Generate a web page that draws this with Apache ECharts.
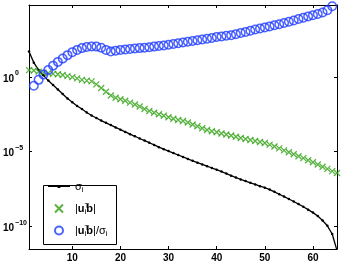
<!DOCTYPE html>
<html><head><meta charset="utf-8">
<script src="https://cdn.jsdelivr.net/npm/echarts@6/dist/echarts.min.js"></script>
<style>html,body{margin:0;padding:0;background:#fff}#c{width:346px;height:265px}</style>
</head><body><div id="c"></div>
<script>
// x tick labels and y tick exponents (log axis decades)
const xTicks = [10, 20, 30, 40, 50, 60];
const yTickExp = [-10, -5, 0];
// values, stored as log10 exponents, i = 1..65
const sigmaExp = [1.69,0.95,0.45,0.10,-0.25,-0.55,-0.85,-1.15,-1.45,-1.70,
  -1.95,-2.15,-2.38,-2.58,-2.75,-2.92,-3.07,-3.22,-3.38,-3.53,
  -3.68,-3.83,-3.97,-4.12,-4.26,-4.40,-4.55,-4.70,-4.83,-4.96,
  -5.09,-5.22,-5.35,-5.48,-5.61,-5.73,-5.85,-5.97,-6.09,-6.20,
  -6.33,-6.46,-6.60,-6.73,-6.85,-6.96,-7.08,-7.19,-7.30,-7.40,
  -7.53,-7.68,-7.84,-8.00,-8.16,-8.33,-8.50,-8.68,-8.87,-9.07,
  -9.30,-9.60,-9.95,-10.50,-11.60];
const betaExp = [0.45,0.42,0.35,0.28,0.25,0.20,0.17,0.12,0.05,-0.02,
  -0.10,-0.20,-0.25,-0.30,-0.50,-0.75,-1.00,-1.25,-1.40,-1.50,
  -1.60,-1.72,-1.85,-1.98,-2.15,-2.28,-2.40,-2.50,-2.60,-2.70,
  -2.80,-2.88,-2.95,-3.05,-3.18,-3.30,-3.43,-3.55,-3.63,-3.70,
  -3.78,-3.85,-3.92,-4.00,-4.08,-4.15,-4.22,-4.28,-4.35,-4.42,
  -4.53,-4.65,-4.78,-4.91,-5.04,-5.17,-5.30,-5.43,-5.57,-5.71,
  -5.85,-6.00,-6.15,-6.30,-6.42];
const etaExp = [null,-0.60,-0.20,0.15,0.45,0.75,1.00,1.22,1.45,1.65,
  1.80,1.92,2.00,2.03,2.02,1.95,1.80,1.70,1.75,1.80,
  1.83,1.86,1.89,1.92,1.95,1.98,2.02,2.06,2.10,2.15,
  2.20,2.25,2.30,2.35,2.40,2.45,2.50,2.55,2.60,2.66,
  2.70,2.74,2.78,2.85,2.93,3.00,3.08,3.16,3.23,3.30,
  3.37,3.45,3.52,3.60,3.68,3.77,3.86,3.95,4.04,4.12,
  4.20,4.30,4.45,4.72,5.10];
const seriesNames = ['sigma', 'beta', 'eta'];

const toPairs = arr => arr.map((e, k) => [k + 1, e === null ? null : Math.pow(10, e)]);
const FONT = 'Liberation Sans';
const green = '#2ea012', blue = '#1f3cff';

const supExp = e => (e < 0 ? '\u2212' + (-e) : '' + e);
const yVals = yTickExp.map(e => Math.pow(10, e));

const axisCommon = {
  axisLine: { show: true, lineStyle: { color: '#000', width: 1 } },
  axisTick: { show: true, inside: true, length: 3, lineStyle: { color: '#000' } },
  splitLine: { show: false }
};

const legendText = {
  sigma: '{n|\u03c3}{sub|i}',
  beta: '{n||}{bu|u}{sup|T}{sub|i}{bu|b}{n||}',
  eta: '{n||}{bu|u}{sup|T}{sub|i}{bu|b}{n||/\u03c3}{sub|i}'
};
// legend icon for the line series: short line with a dot (bbox 22 x 8)
const lineDotIcon = 'path://M0,0L0.02,0L0,0.02Z M0,3.4L22,3.4L22,4.6L0,4.6Z M9.6,2.6L12.4,2.6L12.4,5.4L9.6,5.4Z M22,8L21.98,8L22,7.98Z';

const chart = echarts.init(document.getElementById('c'), null, { renderer: 'canvas' });
chart.setOption({
  animation: false,
  backgroundColor: '#fff',
  grid: { left: 28, right: 9, top: 5, bottom: 16, containLabel: false },
  xAxis: [
    Object.assign({}, axisCommon, {
      type: 'value', min: 1, max: 65, position: 'bottom',
      axisTick: Object.assign({}, axisCommon.axisTick, { customValues: xTicks }),
      axisLabel: { customValues: xTicks, margin: 4, color: '#000', fontFamily: FONT, fontSize: 10, fontWeight: 'bold' }
    }),
    Object.assign({}, axisCommon, {
      type: 'value', min: 1, max: 65, position: 'top',
      axisTick: Object.assign({}, axisCommon.axisTick, { customValues: xTicks }),
      axisLabel: { show: false }
    })
  ],
  yAxis: [
    Object.assign({}, axisCommon, {
      type: 'log', logBase: 10, min: Math.pow(10, -11.5), max: Math.pow(10, 4.8), position: 'left',
      axisTick: Object.assign({}, axisCommon.axisTick, { customValues: yVals }),
      axisLabel: {
        customValues: yVals, align: 'left', margin: 26,
        formatter: v => '{b|10}{s|' + supExp(Math.round(Math.log10(v))) + '}',
        rich: {
          b: { fontFamily: FONT, fontSize: 10, fontWeight: 'bold', color: '#000', lineHeight: 12, padding: [4, 0, 0, 0], verticalAlign: 'bottom' },
          s: { fontFamily: FONT, fontSize: 7, fontWeight: 'bold', color: '#000', lineHeight: 14, verticalAlign: 'top', padding: [0, 0, 0, 1] }
        }
      }
    }),
    Object.assign({}, axisCommon, {
      type: 'log', logBase: 10, min: Math.pow(10, -11.5), max: Math.pow(10, 4.8), position: 'right',
      axisTick: Object.assign({}, axisCommon.axisTick, { customValues: yVals }),
      axisLabel: { show: false }
    })
  ],
  legend: {
    orient: 'vertical', left: 43, top: 181, z: 10,
    padding: [0, 4, 0, 5], itemGap: 8, itemWidth: 22, itemHeight: 8,
    data: [{ name: 'sigma', icon: lineDotIcon }, 'beta', 'eta'],
    formatter: name => legendText[name],
    textStyle: {
      color: '#000',
      rich: {
        n: { fontFamily: FONT, fontSize: 11, color: '#000', lineHeight: 14, verticalAlign: 'middle' },
        bu: { fontFamily: FONT, fontSize: 11, fontWeight: 'bold', color: '#000', lineHeight: 14, verticalAlign: 'middle' },
        sub: { fontFamily: FONT, fontSize: 8, color: '#000', lineHeight: 8, verticalAlign: 'bottom' },
        sup: { fontFamily: FONT, fontSize: 8, color: '#000', lineHeight: 8, verticalAlign: 'top', width: 0.01 }
      }
    }
  },
  graphic: [{
    type: 'rect', z: 5, silent: true,
    shape: { x: 43.5, y: 185.5, width: 73, height: 59 },
    style: { fill: '#fff', stroke: '#000', lineWidth: 1 }
  }],
  series: [
    {
      name: 'sigma', type: 'line', data: toPairs(sigmaExp),
      symbol: 'circle', symbolSize: 2.5, showSymbol: true,
      itemStyle: { color: '#000' }, lineStyle: { color: '#000', width: 1.3 }, z: 2
    },
    {
      name: 'beta', type: 'scatter', data: toPairs(betaExp),
      symbol: 'path://M0,0L6,6M6,0L0,6', symbolSize: 6, symbolKeepAspect: true,
      itemStyle: { color: 'rgba(0,0,0,0)', borderColor: green, borderWidth: 1.3 }, z: 3
    },
    {
      name: 'eta', type: 'scatter', data: toPairs(etaExp),
      symbol: 'circle', symbolSize: 8.5,
      itemStyle: { color: 'rgba(0,0,0,0)', borderColor: blue, borderWidth: 1.5 }, z: 4
    }
  ]
});
</script></body></html>
